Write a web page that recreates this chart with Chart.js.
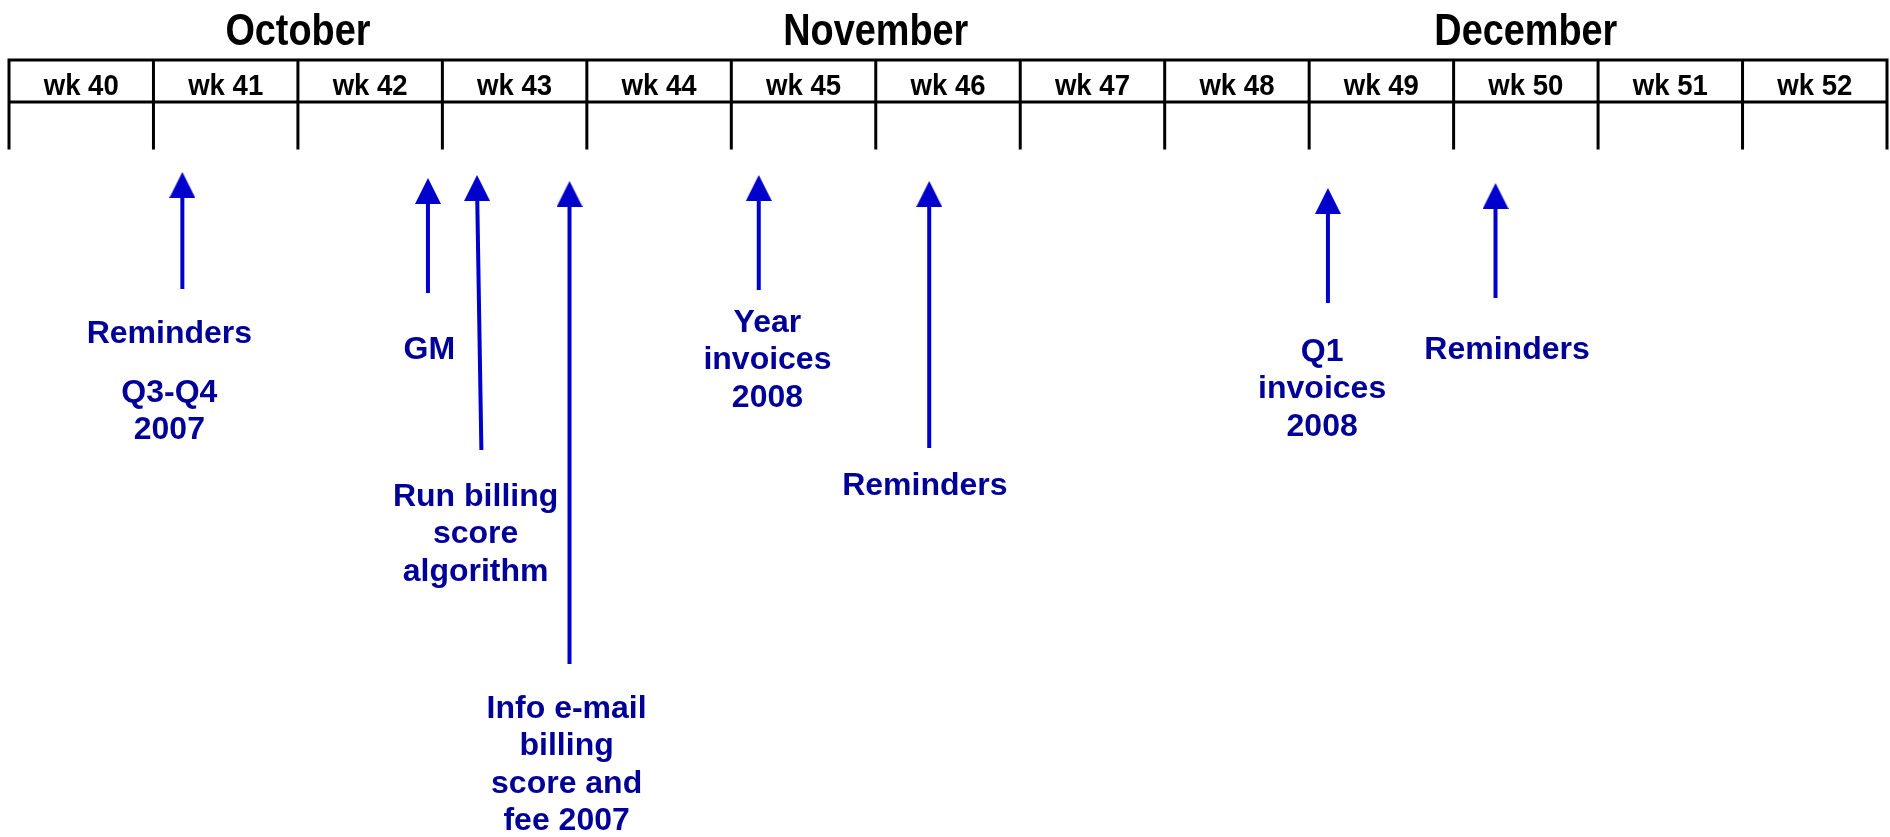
<!DOCTYPE html>
<html>
<head>
<meta charset="utf-8">
<script src="https://cdn.jsdelivr.net/npm/chart.js@4.4.1/dist/chart.umd.min.js"></script>
<style>
  html, body { margin: 0; padding: 0; background: #fff; }
  #wrap { width: 1890px; height: 837px; }
</style>
</head>
<body>
<div id="wrap"><canvas id="timeline"></canvas></div>
<script>
// week columns of the header
const weeks = [40, 41, 42, 43, 44, 45, 46, 47, 48, 49, 50, 51, 52];
const weekLabels = ['wk 40', 'wk 41', 'wk 42', 'wk 43', 'wk 44', 'wk 45', 'wk 46', 'wk 47', 'wk 48', 'wk 49', 'wk 50', 'wk 51', 'wk 52'];
const months = ['October', 'November', 'December'];
const monthCenters = [41.5, 45.5, 50];

// table rows (depth from the top)
const tableTop = 60;
const headerBottom = 102;
const tableBottom = 148;

// arrows: week position and depth of head / tail
const arrowTopX = [40.70, 42.40, 42.74, 43.38, 44.69, 45.87, 48.63, 49.79];
const arrowBaseX = [40.70, 42.40, 42.77, 43.38, 44.69, 45.87, 48.63, 49.79];
const arrowHead = [185, 191, 188, 194, 188, 194, 201, 196];
const arrowTail = [289, 293, 450, 664, 290, 448, 303, 298];

// notes under the arrows
const noteText = [
  ['Reminders'],
  ['Q3-Q4', '2007'],
  ['GM'],
  ['Run billing', 'score', 'algorithm'],
  ['Info e-mail', 'billing', 'score and', 'fee 2007'],
  ['Year', 'invoices', '2008'],
  ['Reminders'],
  ['Q1', 'invoices', '2008'],
  ['Reminders']
];
const noteX = [40.61, 40.61, 42.41, 42.73, 43.36, 44.75, 45.84, 48.59, 49.87];
const noteY = [334, 393, 350, 497, 709, 323, 486, 352, 350];

const arrowColor = '#0000CC';
const noteColor = '#000099';

// arrow head as a small canvas used as point style
function makeHead(w, h) {
  const c = document.createElement('canvas');
  c.width = w;
  c.height = h;
  const g = c.getContext('2d');
  g.fillStyle = arrowColor;
  g.beginPath();
  g.moveTo(w / 2, 0);
  g.lineTo(w, h);
  g.lineTo(0, h);
  g.closePath();
  g.fill();
  return c;
}
const head = makeHead(26, 26);

// table lines, broken by nulls
const gridData = [];
const first = weeks[0] - 0.5;
const last = weeks[weeks.length - 1] + 0.5;
[tableTop, headerBottom].forEach(y => {
  gridData.push({ x: first, y: y }, { x: last, y: y }, { x: last, y: null });
});
weeks.concat([last + 0.5]).forEach(w => {
  const b = w - 0.5;
  gridData.push({ x: b, y: tableTop }, { x: b, y: tableBottom }, { x: b, y: null });
});

const datasets = [{
  label: 'table',
  data: gridData,
  borderColor: '#000',
  borderWidth: 3,
  borderCapStyle: 'square',
  pointRadius: 0,
  spanGaps: false,
  clip: false
}];

arrowTopX.forEach((x, i) => {
  datasets.push({
    label: 'arrow ' + i,
    data: [{ x: arrowBaseX[i], y: arrowTail[i] }, { x: x, y: arrowHead[i] }],
    borderColor: arrowColor,
    borderWidth: 4,
    pointRadius: [0, 13],
    pointStyle: head,
    clip: false
  });
});

// narrow text: squeeze horizontally around the centre
function narrowText(ctx, text, x, y, sx) {
  ctx.save();
  ctx.translate(x, y);
  ctx.scale(sx, 1);
  ctx.fillText(text, 0, 0);
  ctx.restore();
}

const textPlugin = {
  id: 'timelineText',
  afterDatasetsDraw(chart) {
    const ctx = chart.ctx;
    const xs = chart.scales.x;
    const ys = chart.scales.y;
    ctx.save();
    ctx.textAlign = 'center';

    // week labels
    ctx.fillStyle = '#000';
    ctx.textBaseline = 'alphabetic';
    ctx.font = 'bold 29px "Liberation Sans", Arial, sans-serif';
    weekLabels.forEach((t, i) => {
      narrowText(ctx, t, xs.getPixelForValue(weeks[i]), ys.getPixelForValue(95), 0.95);
    });

    // months
    ctx.font = 'bold 44px "Liberation Sans", Arial, sans-serif';
    months.forEach((m, i) => {
      narrowText(ctx, m, xs.getPixelForValue(monthCenters[i]), ys.getPixelForValue(45), 0.86);
    });

    // notes
    ctx.fillStyle = noteColor;
    ctx.textBaseline = 'middle';
    ctx.font = 'bold 32px "Liberation Sans", Arial, sans-serif';
    noteText.forEach((lines, i) => {
      lines.forEach((t, j) => {
        ctx.fillText(t, xs.getPixelForValue(noteX[i]), ys.getPixelForValue(noteY[i] + j * 37.5));
      });
    });
    ctx.restore();
  }
};

new Chart(document.getElementById('timeline'), {
  type: 'line',
  data: { datasets: datasets },
  options: {
    responsive: true,
    maintainAspectRatio: false,
    animation: false,
    events: [],
    layout: { autoPadding: false, padding: { left: 9, right: 3, top: 0, bottom: 0 } },
    plugins: { legend: { display: false }, tooltip: { enabled: false } },
    scales: {
      x: { type: 'linear', display: false, min: first, max: last },
      y: { type: 'linear', display: false, reverse: true, min: 0, max: 837 }
    }
  },
  plugins: [textPlugin]
});
</script>
</body>
</html>
